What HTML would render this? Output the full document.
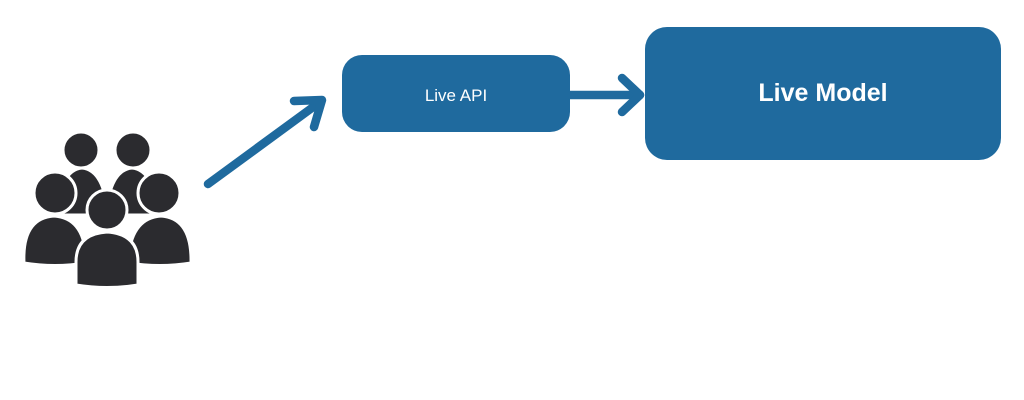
<!DOCTYPE html>
<html><head><style>html,body{margin:0;padding:0;background:#fff;}svg{display:block}</style></head>
<body>
<svg width="1024" height="400" viewBox="0 0 1024 400" xmlns="http://www.w3.org/2000/svg">
<rect width="1024" height="400" fill="#fff"/>
<g fill="#2b2b2f" stroke="#fff" stroke-width="3">
  <path d="M58 215 Q60 170 82 168 Q104 170 108 215 Z"/>
  <path d="M106 215 Q110 170 132 168 Q154 170 158 215 Z"/>
  <circle cx="81" cy="150" r="18"/>
  <circle cx="133" cy="150" r="18"/>
  <path d="M24 263 Q22 218 54 216 Q86 218 86 263 Q55 268 24 263 Z"/>
  <path d="M128 263 Q130 218 161 216 Q192 218 191 263 Q160 268 128 263 Z"/>
  <circle cx="55" cy="193" r="21"/>
  <circle cx="159" cy="193" r="21"/>
  <path d="M76 285 L76 262 Q76 234 107 232 Q138 234 138 262 L138 285 Q107 290 76 285 Z"/>
  <circle cx="107" cy="210" r="20"/>
</g>
<g stroke="#1f6a9e" stroke-width="8.5" stroke-linecap="round" stroke-linejoin="round" fill="none">
  <line x1="208" y1="184" x2="320" y2="102"/>
  <polyline points="294,101 322,100 314,127"/>
  <line x1="570" y1="95" x2="640" y2="95"/>
  <polyline points="622,78 640,95 622,112"/>
</g>
<rect x="342" y="55" width="228" height="77" rx="20" fill="#1f6a9e"/>
<rect x="645" y="27" width="356" height="133" rx="22" fill="#1f6a9e"/>
<text x="456" y="101" fill="#fff" font-family="Liberation Sans, sans-serif" font-size="17" text-anchor="middle">Live API</text>
<text x="823" y="101" fill="#fff" font-family="Liberation Sans, sans-serif" font-size="25" font-weight="bold" text-anchor="middle">Live Model</text>
</svg>
</body></html>
